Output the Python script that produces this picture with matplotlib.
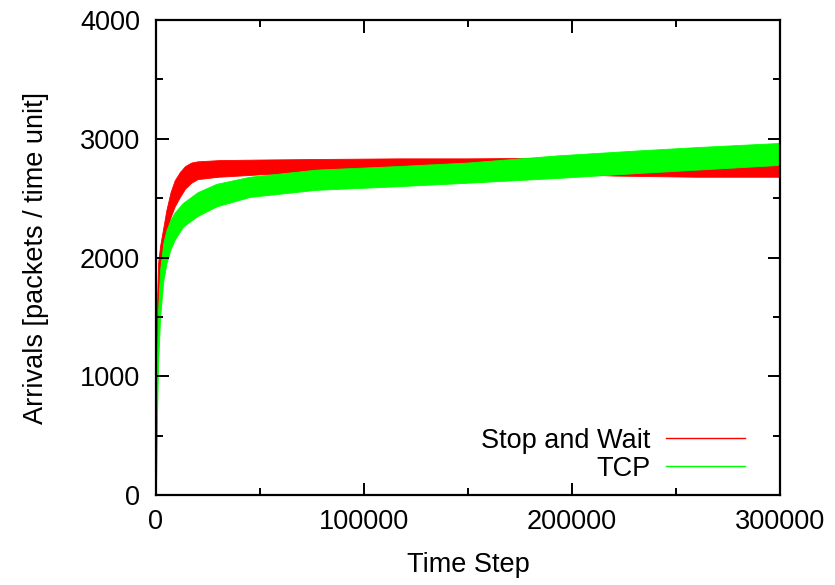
import matplotlib
matplotlib.use("Agg")
import matplotlib.pyplot as plt
from matplotlib.lines import Line2D
from matplotlib.ticker import MultipleLocator

plt.rcParams['font.family'] = ['Liberation Sans', 'DejaVu Sans']

# Stop and Wait: envelope of the noisy series (time step, lower, upper)
sw_time = [0, 300, 1000, 2000, 3500, 5000, 7000, 9000, 11500, 14000, 17000,
           20000, 30000, 50000, 80000, 117000, 150000, 190000, 220000, 260000, 300000]
sw_low = [0, 800, 1450, 1750, 1950, 2150, 2340, 2430, 2510, 2580, 2630,
          2660, 2680, 2700, 2710, 2720, 2720, 2710, 2690, 2680, 2680]
sw_high = [600, 1500, 1950, 2100, 2250, 2400, 2550, 2650, 2720, 2770, 2800,
           2810, 2820, 2825, 2830, 2835, 2835, 2840, 2830, 2815, 2810]

# TCP envelope
tcp_time = [0, 300, 1000, 2000, 3500, 5000, 7000, 9000, 13000, 20000, 29000,
            45000, 77000, 116000, 150000, 193000, 230000, 260000, 300000]
tcp_low = [0, 500, 1100, 1500, 1800, 1950, 2070, 2150, 2260, 2350, 2430,
           2510, 2570, 2600, 2630, 2670, 2710, 2740, 2780]
tcp_high = [300, 1000, 1550, 1900, 2120, 2230, 2320, 2380, 2460, 2550, 2620,
            2680, 2740, 2770, 2800, 2860, 2900, 2930, 2965]

series_names = ["Stop and Wait", "TCP"]
series_colors = ["#ff0000", "#00ff00"]

FS = 19.5

fig = plt.figure(figsize=(8.35, 5.85), dpi=100)
ax = fig.add_axes([0.1868, 0.1538, 0.9341 - 0.1868, 0.9658 - 0.1538])

ax.fill_between(sw_time, sw_low, sw_high, color=series_colors[0], linewidth=0.6,
                edgecolor=series_colors[0])
ax.fill_between(tcp_time, tcp_low, tcp_high, color=series_colors[1], linewidth=0.6,
                edgecolor=series_colors[1])

ax.set_xlim(0, 300000)
ax.set_ylim(0, 4000)
ax.xaxis.set_major_locator(MultipleLocator(100000))
ax.xaxis.set_minor_locator(MultipleLocator(50000))
ax.yaxis.set_major_locator(MultipleLocator(1000))
ax.yaxis.set_minor_locator(MultipleLocator(500))
ax.tick_params(which='both', direction='in', top=True, right=True, width=1.4,
               labelsize=FS)
ax.tick_params(axis='y', pad=11.5)
ax.tick_params(axis='x', pad=10)
ax.tick_params(which='major', length=9)
ax.tick_params(which='minor', length=5)
for s in ax.spines.values():
    s.set_linewidth(1.6)

ax.set_xlabel("Time Step", fontsize=FS, labelpad=12)
ax.set_ylabel("Arrivals [packets / time unit]", fontsize=FS, labelpad=22)

handles = [Line2D([], [], color=c, linewidth=1.0) for c in series_colors]
ax.legend(handles, series_names, loc='lower right', markerfirst=False,
          frameon=False, fontsize=FS, handlelength=2.9, handletextpad=0.6,
          labelspacing=0.08, borderaxespad=0, bbox_to_anchor=(0.961, 0.005))

fig.savefig("out.png", dpi=100)
